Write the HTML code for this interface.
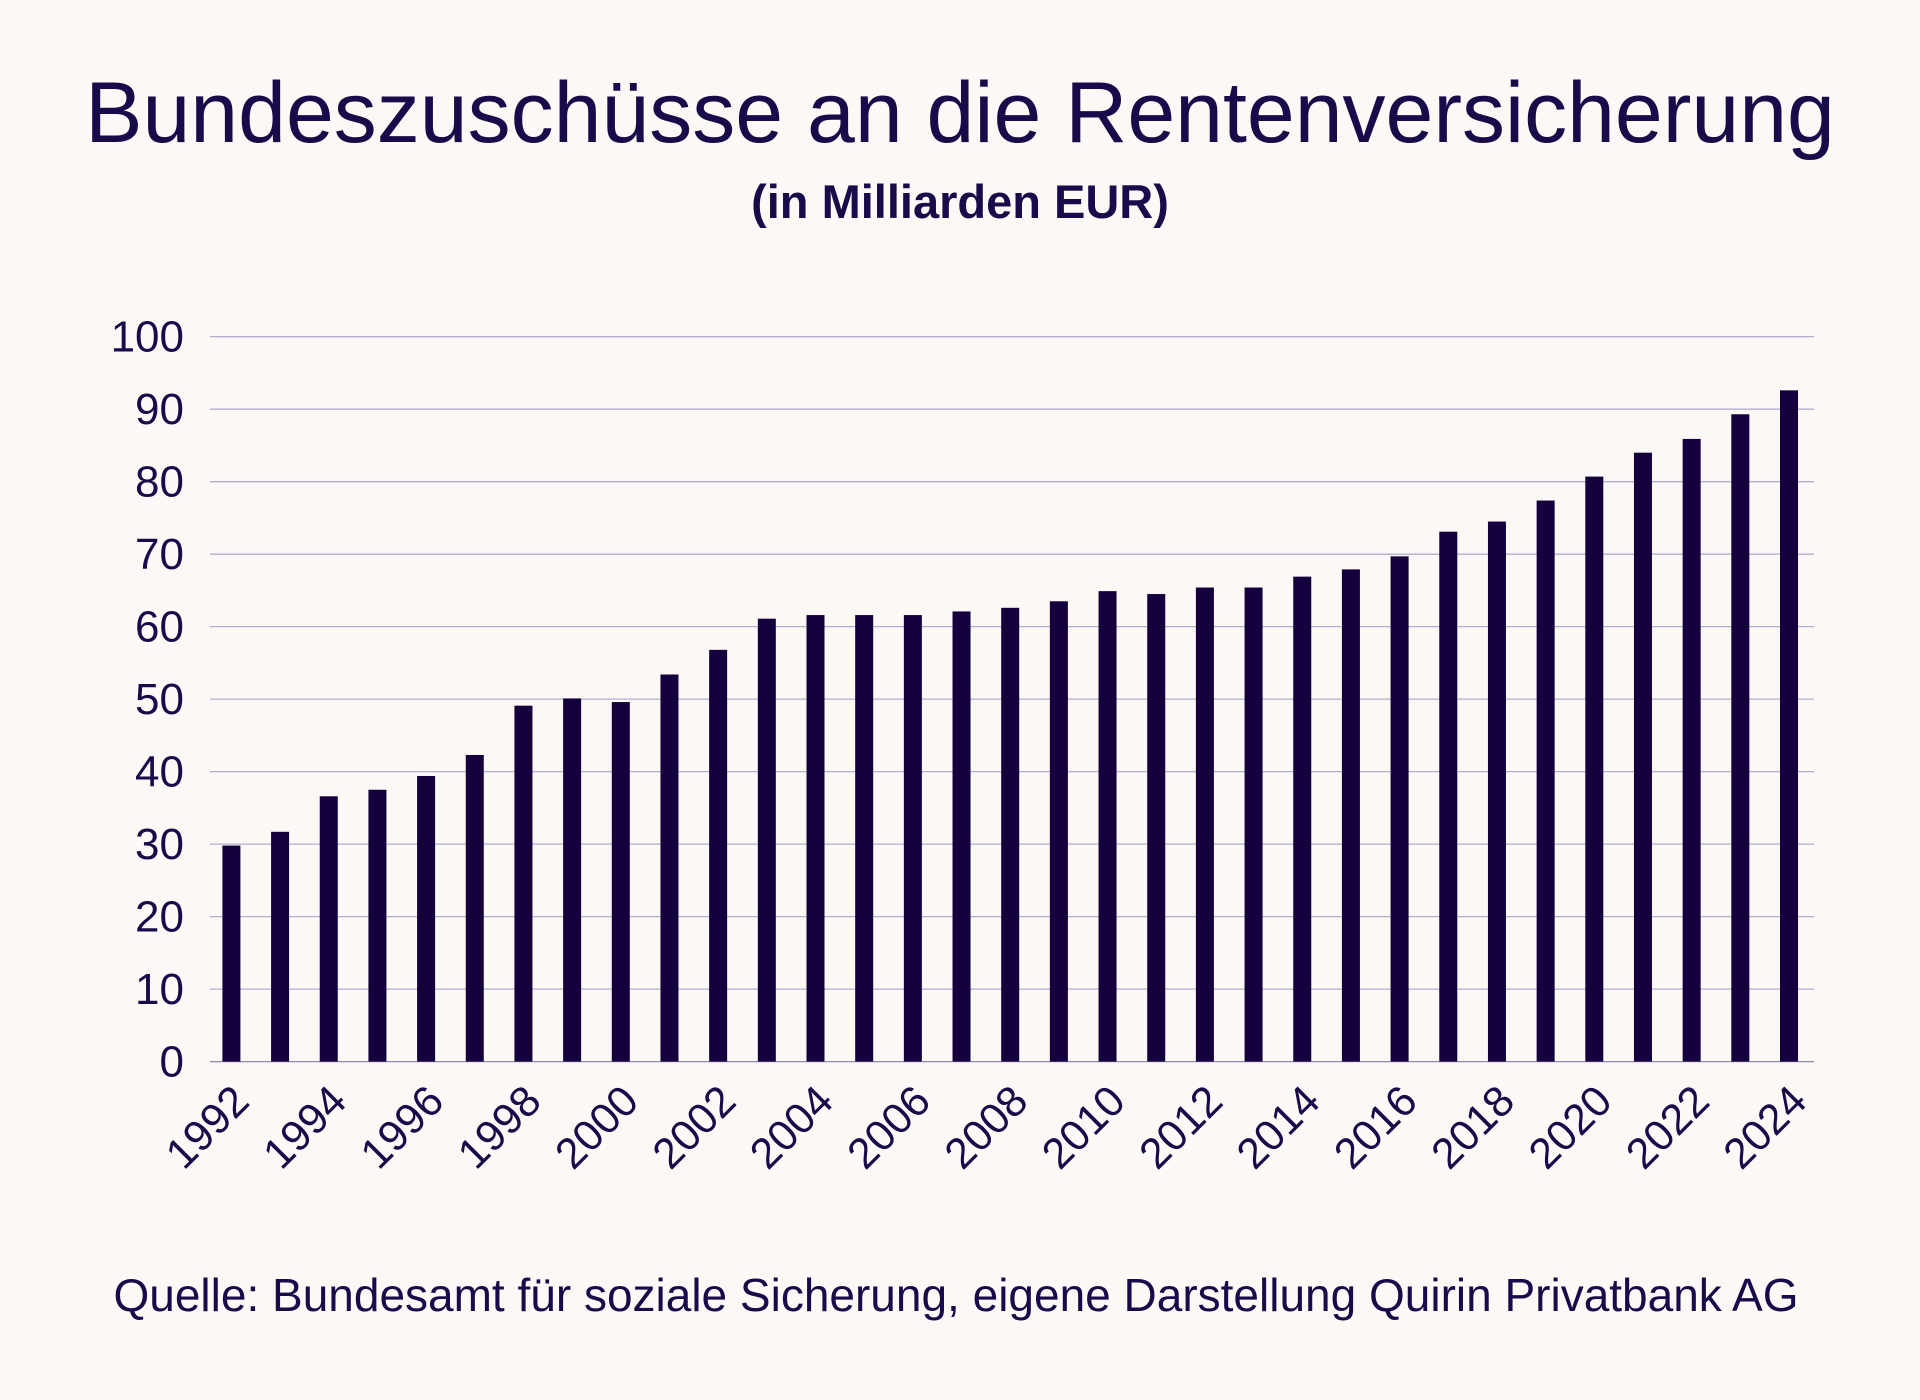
<!DOCTYPE html>
<html><head><meta charset="utf-8"><style>
html,body{margin:0;padding:0;background:#fcf8f5;}
svg{display:block;font-family:"Liberation Sans",sans-serif;}
</style></head><body>
<svg id="chart" width="1920" height="1400" viewBox="0 0 1920 1400">
<rect width="1920" height="1400" fill="#fcf8f5"/>
<text x="960" y="142" text-anchor="middle" font-size="86" fill="#1a0a4a">Bundeszuschüsse an die Rentenversicherung</text>
<text x="960" y="218" text-anchor="middle" font-size="47" font-weight="600" fill="#1a0a4a">(in Milliarden EUR)</text>
<g id="grid"></g>
<g id="bars"></g>
<g id="xlabels"></g>
<text x="956" y="1311" text-anchor="middle" font-size="46" fill="#1a0a4a">Quelle: Bundesamt für soziale Sicherung, eigene Darstellung Quirin Privatbank AG</text>
</svg>
<script>
const years = [];
for (let y = 1992; y <= 2024; y++) years.push(y);
const values = [29.8,31.7,36.6,37.5,39.4,42.3,49.1,50.1,49.6,53.4,56.8,61.1,61.6,61.6,61.6,62.1,62.6,63.5,64.9,64.5,65.4,65.4,66.9,67.9,69.7,73.1,74.5,77.4,80.7,84.0,85.9,89.3,92.6];
const yTicks = [0,10,20,30,40,50,60,70,80,90,100];

const NS = "http://www.w3.org/2000/svg";
const y0 = 1061.6, y100 = 336.7, left = 210, right = 1814;
const firstX = 231.4, lastX = 1789, barW = 18;
function yScale(v){ return y0 - (v/100)*(y0 - y100); }
function xScale(i){ return firstX + i*(lastX-firstX)/(years.length-1); }

const grid = document.getElementById('grid');
yTicks.forEach(t => {
  const l = document.createElementNS(NS,'line');
  
  
  l.setAttribute('x1',left); l.setAttribute('x2',right);
  l.setAttribute('y1',yScale(t)); l.setAttribute('y2',yScale(t));
  l.setAttribute('stroke', t===0 ? '#8f8aae' : '#b3aecf'); l.setAttribute('stroke-width','1.3');
  grid.appendChild(l);
  const tx = document.createElementNS(NS,'text');
  
  
  tx.setAttribute('x',184); tx.setAttribute('y',yScale(t)+15);
  tx.setAttribute('text-anchor','end'); tx.setAttribute('font-size','44'); tx.setAttribute('fill','#1a0a4a');
  tx.textContent = t;
  grid.appendChild(tx);
});

const bars = document.getElementById('bars');
values.forEach((v,i) => {
  const r = document.createElementNS(NS,'rect');
  
  
  r.setAttribute('x',xScale(i)-barW/2); r.setAttribute('y',yScale(v));
  r.setAttribute('width',barW); r.setAttribute('height',y0-yScale(v));
  r.setAttribute('fill','#14003c');
  bars.appendChild(r);
});

const xl = document.getElementById('xlabels');
years.forEach((yr,i) => {
  if (i % 2 !== 0) return;
  const cx = xScale(i);
  const t = document.createElementNS(NS,'text');
  
  
  t.setAttribute('transform','translate('+(cx+20)+','+(y0+42)+') rotate(-45)');
  t.setAttribute('text-anchor','end'); t.setAttribute('font-size','43'); t.setAttribute('fill','#1a0a4a');
  t.textContent = yr;
  xl.appendChild(t);
});
</script>
</body></html>
